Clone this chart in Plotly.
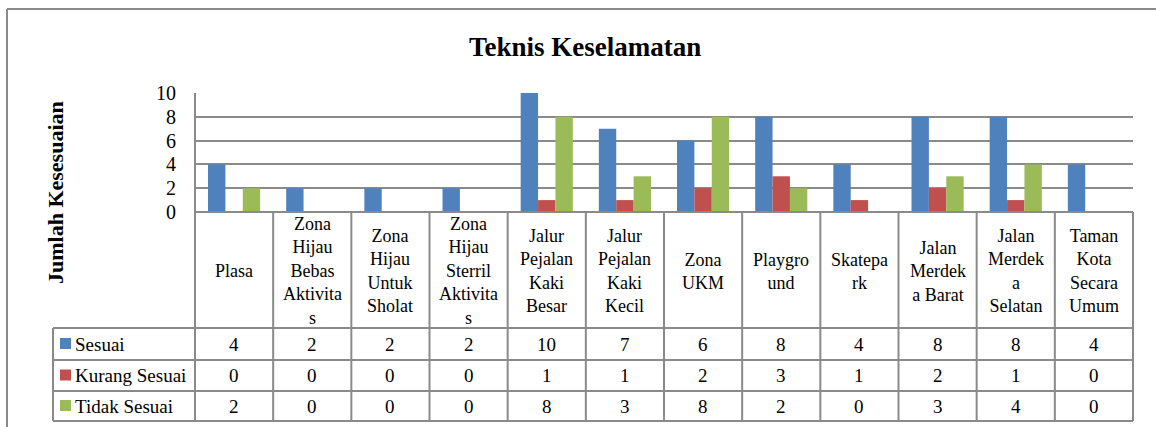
import plotly.graph_objects as go

# ---- data ----
categories = [
    "Plasa",
    "Zona<br>Hijau<br>Bebas<br>Aktivita<br>s",
    "Zona<br>Hijau<br>Untuk<br>Sholat",
    "Zona<br>Hijau<br>Sterril<br>Aktivita<br>s",
    "Jalur<br>Pejalan<br>Kaki<br>Besar",
    "Jalur<br>Pejalan<br>Kaki<br>Kecil",
    "Zona<br>UKM",
    "Playgro<br>und",
    "Skatepa<br>rk",
    "Jalan<br>Merdek<br>a Barat",
    "Jalan<br>Merdek<br>a<br>Selatan",
    "Taman<br>Kota<br>Secara<br>Umum",
]
sesuai = [4, 2, 2, 2, 10, 7, 6, 8, 4, 8, 8, 4]
kurang_sesuai = [0, 0, 0, 0, 1, 1, 2, 3, 1, 2, 1, 0]
tidak_sesuai = [2, 0, 0, 0, 8, 3, 8, 2, 0, 3, 4, 0]
series_names = ["Sesuai", "Kurang Sesuai", "Tidak Sesuai"]
series_values = [sesuai, kurang_sesuai, tidak_sesuai]
series_colors = ["#4F81BD", "#C0504D", "#9BBB59"]
title_text = "Teknis Keselamatan"
y_title = "Jumlah Kesesuaian"
y_ticks = [0, 2, 4, 6, 8, 10]

# ---- geometry (pixels) ----
W, H = 1156, 427
PL, PR, PT, PB = 195, 1133, 93, 212
LEG_L = 53
ROW_Y = [212, 328, 360, 391, 421]
GRID = "#8a8a8a"
FONT = "Liberation Serif"
FS = 19
FS_HEAD = 18

def xp(px):
    return (px - PL) / (PR - PL)

def yp(py):
    return (PB - py) / (PB - PT)

n = len(categories)
xs = list(range(n))
colw = (PR - PL) / n

fig = go.Figure()
for name, vals, col in zip(series_names, series_values, series_colors):
    fig.add_trace(go.Bar(x=xs, y=vals, name=name, marker_color=col,
                         marker_line_width=0, showlegend=False))

shapes = []
line = dict(color=GRID, width=2)
# outer chart border
shapes.append(dict(type="line", xref="paper", yref="paper", x0=xp(7), x1=xp(W + 5), y0=yp(9), y1=yp(9), line=line))
shapes.append(dict(type="line", xref="paper", yref="paper", x0=xp(7), x1=xp(7), y0=yp(9), y1=yp(H + 5), line=line))
# table horizontal lines
for i, ry in enumerate(ROW_Y):
    x0 = PL if i == 0 else LEG_L
    shapes.append(dict(type="line", xref="paper", yref="paper", x0=xp(x0), x1=xp(PR), y0=yp(ry), y1=yp(ry), line=line))
# table vertical lines
for k in range(n + 1):
    px = PL + k * colw
    top = ROW_Y[0] if k > 0 else PT
    shapes.append(dict(type="line", xref="paper", yref="paper", x0=xp(px), x1=xp(px), y0=yp(top), y1=yp(ROW_Y[-1]), line=line))
shapes.append(dict(type="line", xref="paper", yref="paper", x0=xp(LEG_L), x1=xp(LEG_L), y0=yp(ROW_Y[1]), y1=yp(ROW_Y[-1]), line=line))

annotations = []
# header cells
for k, cat in enumerate(categories):
    annotations.append(dict(xref="paper", yref="paper", x=xp(PL + (k + 0.5) * colw), y=yp((ROW_Y[0] + ROW_Y[1]) / 2 + 1),
                            text=cat, showarrow=False, xanchor="center", yanchor="middle",
                            font=dict(family=FONT, size=FS_HEAD, color="#000")))
# data rows
for r, (name, vals, col) in enumerate(zip(series_names, series_values, series_colors)):
    cy = (ROW_Y[r + 1] + ROW_Y[r + 2]) / 2
    shapes.append(dict(type="rect", xref="paper", yref="paper", x0=xp(60), x1=xp(71), y0=yp(cy - 6), y1=yp(cy + 5),
                       fillcolor=col, line=dict(width=0)))
    annotations.append(dict(xref="paper", yref="paper", x=xp(73), y=yp(cy), text=name, showarrow=False,
                            xanchor="left", yanchor="middle", font=dict(family=FONT, size=FS, color="#000")))
    for k, v in enumerate(vals):
        annotations.append(dict(xref="paper", yref="paper", x=xp(PL + (k + 0.5) * colw), y=yp(cy), text=str(v),
                                showarrow=False, xanchor="center", yanchor="middle",
                                font=dict(family=FONT, size=FS, color="#000")))
# title
annotations.append(dict(xref="paper", yref="paper", x=xp(585), y=yp(47), text="<b>%s</b>" % title_text,
                        showarrow=False, xanchor="center", yanchor="middle",
                        font=dict(family=FONT, size=27, color="#000")))
# y-axis title
annotations.append(dict(xref="paper", yref="paper", x=xp(55), y=yp(193), text="<b>%s</b>" % y_title,
                        showarrow=False, xanchor="center", yanchor="middle", textangle=-90,
                        font=dict(family=FONT, size=22, color="#000")))

fig.update_layout(
    width=W, height=H,
    margin=dict(l=PL, r=W - PR, t=PT, b=H - PB, pad=0),
    paper_bgcolor="white", plot_bgcolor="white",
    barmode="group", bargap=0.333, bargroupgap=0,
    shapes=shapes, annotations=annotations,
    xaxis=dict(range=[-0.5, n - 0.5], showticklabels=False, showgrid=False, zeroline=False,
               showline=False, ticks=""),
    yaxis=dict(range=[0, 10], tickvals=y_ticks, showgrid=True, gridcolor=GRID, gridwidth=2,
               zeroline=False, showline=False, ticks="", ticklabelstandoff=18,
               tickfont=dict(family=FONT, size=20, color="#000")),
)

fig.write_html("out.html", config={"displayModeBar": False},
               post_script="document.body.style.margin='0';")
